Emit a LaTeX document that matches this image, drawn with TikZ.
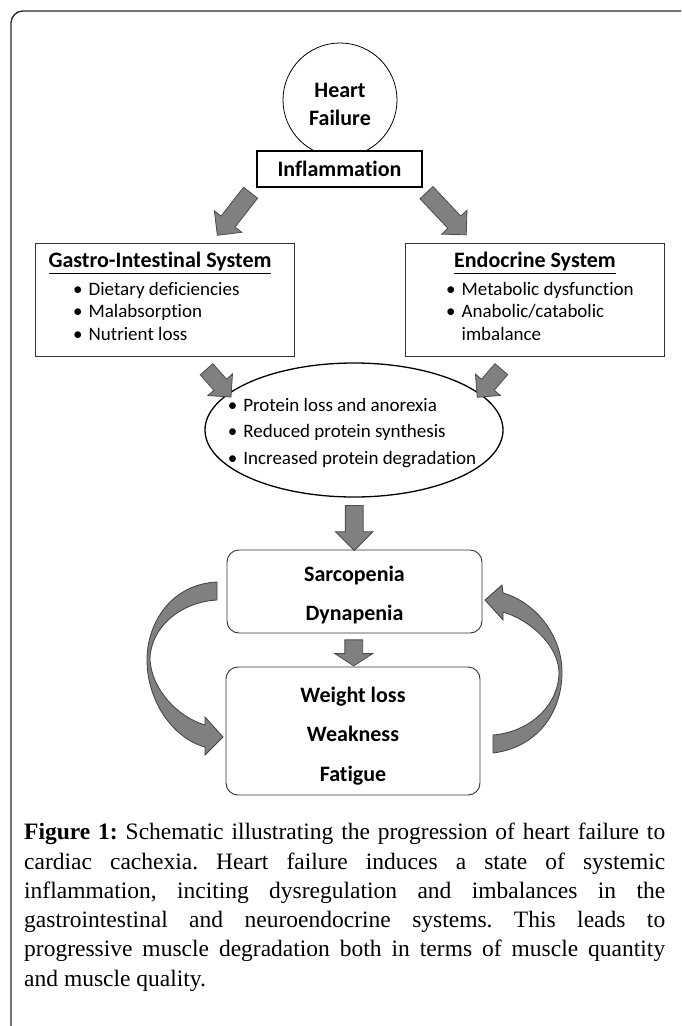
\documentclass[tikz,border=0pt]{standalone}
\usepackage{fontspec}
\setmainfont{Carlito}[Ligatures=NoCommon]
\newfontfamily\capfont{Liberation Serif}
\usetikzlibrary{shapes.geometric,shapes.arrows,calc}

\begin{document}
\begin{tikzpicture}[
		x=1pt, y=-1pt,
		every node/.style={inner sep=0pt},
		blockarrow/.style={single arrow, draw=black!70, fill=black!50, line width=0.8pt,
			inner xsep=0pt, inner ysep=8.5pt, minimum width=34pt, single arrow head extend=8.5pt},
		sysbox/.style={draw=black!80, line width=1pt, minimum width=259pt, minimum height=113pt},
		stagebox/.style={draw=black!80, line width=0.9pt, rounded corners=12pt, minimum width=255pt},
		stagetext/.style={align=center, font=\bfseries\fontsize{22}{39.5}\selectfont},
		headtext/.style={font=\bfseries\fontsize{22}{26}\selectfont},
		listtext/.style={align=left, font=\fontsize{19}{22.5}\selectfont},
		curvearrow/.style={draw=black!75, fill=black!50, line width=0.8pt}
		]
		\useasboundingbox (0,0) rectangle (681,1026);
		% frame
		\draw[black!85, line width=1.3pt, rounded corners=12pt] (11,1026) -- (11,11) -- (681,11);

		\node[circle, draw, line width=0.8pt, minimum size=114pt] (hf) at (340,100) {};
		\node[align=center, font=\bfseries\fontsize{22}{28}\selectfont] (hftext) at (340,104) {Heart\\Failure};
		\node[draw, fill=white, line width=1.6pt, minimum width=165pt, minimum height=36pt,
			headtext] (infl) at (339.5,169) {Inflammation};

		% the two systems
		\node[sysbox] (gi) at (164.5,299.5) {};
		\node[headtext] (gihead) at (160,263) {\underline{Gastro-Intestinal System}};
		\node[listtext, anchor=west] (gilist) at (73,311) {\textbullet\hspace{6pt}Dietary deficiencies\\
			\textbullet\hspace{6pt}Malabsorption\\
			\textbullet\hspace{6pt}Nutrient loss};
		\node[sysbox] (endo) at (534.5,299.5) {};
		\node[headtext] (endohead) at (535,263) {\underline{Endocrine System}};
		\node[listtext, anchor=west] (endolist) at (446,311) {\textbullet\hspace{6pt}Metabolic dysfunction\\
			\textbullet\hspace{6pt}Anabolic/catabolic\\
			\phantom{\textbullet}\hspace{6pt}imbalance};

		\node[ellipse, draw, line width=1.3pt, minimum width=298pt, minimum height=134pt] (prot) at (354,430) {};
		\node[align=left, font=\fontsize{19}{26.5}\selectfont] (prottext) at (352,433) {\textbullet\hspace{6pt}Protein loss and anorexia\\
			\textbullet\hspace{6pt}Reduced protein synthesis\\
			\textbullet\hspace{6pt}Increased protein degradation};

		\node[stagebox, minimum height=83pt] (sarc) at (354.5,591.5) {};
		\node[stagetext] (sarctext) at ($(sarc.center)+(0,3.5)$) {Sarcopenia\\Dynapenia};
		\node[stagebox, minimum height=128pt, minimum width=254pt] (symp) at (353,731) {};
		\node[stagetext] (symptext) at ($(symp.center)+(0,5)$) {Weight loss\\Weakness\\Fatigue};

		% block arrows
		\node[blockarrow, rotate=-128, minimum height=54pt] (toGI) at (236.7,210.5) {};
		\node[blockarrow, rotate=-46.7, minimum height=58pt] (toEndo) at (443.3,210.5) {};
		\node[blockarrow, rotate=-48.7, minimum height=37pt, inner ysep=8pt, minimum width=32pt,
			single arrow head extend=8pt] (giProt) at (216,380) {};
		\node[blockarrow, rotate=-130.6, minimum height=37pt, inner ysep=8pt, minimum width=32pt,
			single arrow head extend=8pt] (endoProt) at (492,380) {};
		\node[blockarrow, rotate=-90, minimum height=45pt, minimum width=37pt,
			single arrow head extend=10pt] (protSarc) at ($(prot.south)!0.5!(sarc.north)$) {};
		\node[blockarrow, rotate=-90, minimum height=26pt, minimum width=37pt,
			single arrow head extend=10pt, single arrow tip angle=114] (sarcSymp) at ($(sarc.south)!0.5!(symp.north)$) {};

		% curved arrows
		\path[curvearrow] (217,582) .. controls (172,584) and (147,622) .. (147,660)
			.. controls (147,700) and (172,738) .. (205,747) -- (205,755) -- (223,737) -- (205,717) -- (205,725)
			.. controls (178,717) and (152,690) .. (150,660)
			.. controls (150,628) and (180,602) .. (217,600) -- cycle;
		\path[curvearrow] (493,753) .. controls (535,748) and (562,715) .. (562,672)
			.. controls (562,635) and (535,602) .. (503,593) -- (502,585) -- (485,600) -- (503,620) -- (503,612)
			.. controls (530,620) and (558,645) .. (559,672)
			.. controls (559,705) and (530,732) .. (493,735) -- cycle;

		\node[anchor=north west, text width=641pt, align=justify,
			font=\capfont\fontsize{23.5}{29.3}\selectfont\frenchspacing] (cap) at (24,823) {\textbf{Figure 1:} Schematic illustrating the progression of heart failure to\linebreak
			cardiac cachexia. Heart failure induces a state of systemic\linebreak
			inflammation, inciting dysregulation and imbalances in the\linebreak
			gastrointestinal and neuroendocrine systems. This leads to\linebreak
			progressive muscle degradation both in terms of muscle quantity\linebreak
			and muscle quality.};
\end{tikzpicture}
\end{document}
